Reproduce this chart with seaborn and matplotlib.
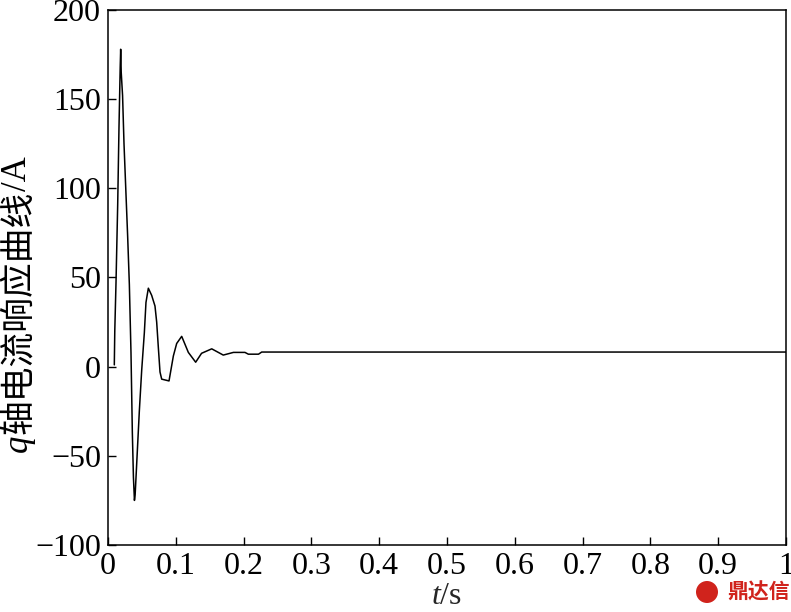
import matplotlib
matplotlib.use("Agg")
import matplotlib.pyplot as plt
import seaborn as sns
import pandas as pd
from matplotlib.patches import Ellipse

# ---- data ----
t_values = [0.0093, 0.0100, 0.0118, 0.0143, 0.0162, 0.0180, 0.0187, 0.0195, 0.0215, 0.0236,
            0.0265, 0.0290, 0.0315, 0.0339, 0.0359, 0.0375, 0.0390, 0.0400, 0.0408, 0.0433,
            0.0462, 0.0497, 0.0536, 0.0560, 0.0595, 0.0644, 0.0693, 0.0718, 0.0742, 0.0767,
            0.0792, 0.0900, 0.0964, 0.1013, 0.1087, 0.1185, 0.1293, 0.1380, 0.1530, 0.1700,
            0.1850, 0.2020, 0.2070, 0.2220, 0.2267, 1.0]
iq_values = [1, 20, 47, 91, 134, 168, 178, 165, 152, 125,
             97, 73, 46, 8, -37, -62, -75, -72, -66, -47,
             -25, -2, 19, 36, 44, 40, 34, 25, 11, -3,
             -7, -8, 6, 13, 17, 8, 2.5, 7.5, 10, 6.5,
             8, 8, 7, 7, 8.2, 8.2]
x_ticks = [0, 0.1, 0.2, 0.3, 0.4, 0.5, 0.6, 0.7, 0.8, 0.9, 1]
x_tick_labels = ["0", "0.1", "0.2", "0.3", "0.4", "0.5", "0.6", "0.7", "0.8", "0.9", "1"]
y_ticks = [-100, -50, 0, 50, 100, 150, 200]
y_tick_labels = ["\u2212100", "\u221250", "0", "50", "100", "150", "200"]
x_label = r"$t$/s"
y_label_parts = [("q", "italic", ["Liberation Serif"]),
                 ("轴电流响应曲线", "normal", ["Noto Sans CJK SC"]),
                 ("/A", "normal", ["Liberation Serif"])]
watermark = "鼎达信"

df = pd.DataFrame({"t": t_values, "iq": iq_values})

sns.set_style("ticks")
plt.rcParams["font.family"] = ["Liberation Serif", "Noto Sans CJK SC", "DejaVu Sans"]
plt.rcParams["mathtext.fontset"] = "custom"
plt.rcParams["mathtext.rm"] = "Liberation Serif"
plt.rcParams["mathtext.it"] = "Liberation Serif:italic"
plt.rcParams["axes.unicode_minus"] = True

W, H = 791, 612
fig = plt.figure(figsize=(W / 100, H / 100), dpi=100)
ax = fig.add_axes([108 / W, 1 - 545 / H, (786 - 108) / W, (545 - 10) / H])

sns.lineplot(data=df, x="t", y="iq", ax=ax, color="black", linewidth=1.1,
             estimator=None, sort=False)

ax.set_xlim(0, 1)
ax.set_ylim(-100, 200)
ax.set_xticks(x_ticks)
ax.set_xticklabels(x_tick_labels)
ax.set_yticks(y_ticks)
ax.set_yticklabels(y_tick_labels)
ax.tick_params(axis="both", direction="in", length=6, width=1, labelsize=23,
               top=False, right=False, colors="black")
ax.tick_params(axis="x", pad=5)
ax.tick_params(axis="y", pad=5)
for s in ax.spines.values():
    s.set_visible(True)
    s.set_color("black")
    s.set_linewidth(1.1)

ax.set_xlabel(x_label, fontsize=23, labelpad=1)
ax.set_ylabel("")

# y label composed of pieces (italic q + CJK + /A), stacked bottom-to-top
fig.canvas.draw()
renderer = fig.canvas.get_renderer()
x_center = 18 / W
texts = []
for txt, style, fam in y_label_parts:
    texts.append(fig.text(x_center, 0, txt, rotation=90, fontsize=25, fontstyle=style,
                          family=fam, ha="center", va="bottom", color="black"))
heights = [t.get_window_extent(renderer).height for t in texts]
total = sum(heights)
center_px = H - 304
y_cur = center_px - total / 2
for t, h in zip(texts, heights):
    t.set_y(y_cur / H)
    y_cur += h

# watermark
fig.text(790 / W, 1 - 592 / H, watermark, color="#d0231c", fontsize=15,
         fontweight="bold", ha="right", va="center", family=["Noto Sans CJK SC"])
fig.patches.append(Ellipse((707 / W, 1 - 592 / H), 22 / W, 22 / H, transform=fig.transFigure,
                           facecolor="#d0231c", edgecolor="none"))

fig.savefig("out.png", dpi=100)
